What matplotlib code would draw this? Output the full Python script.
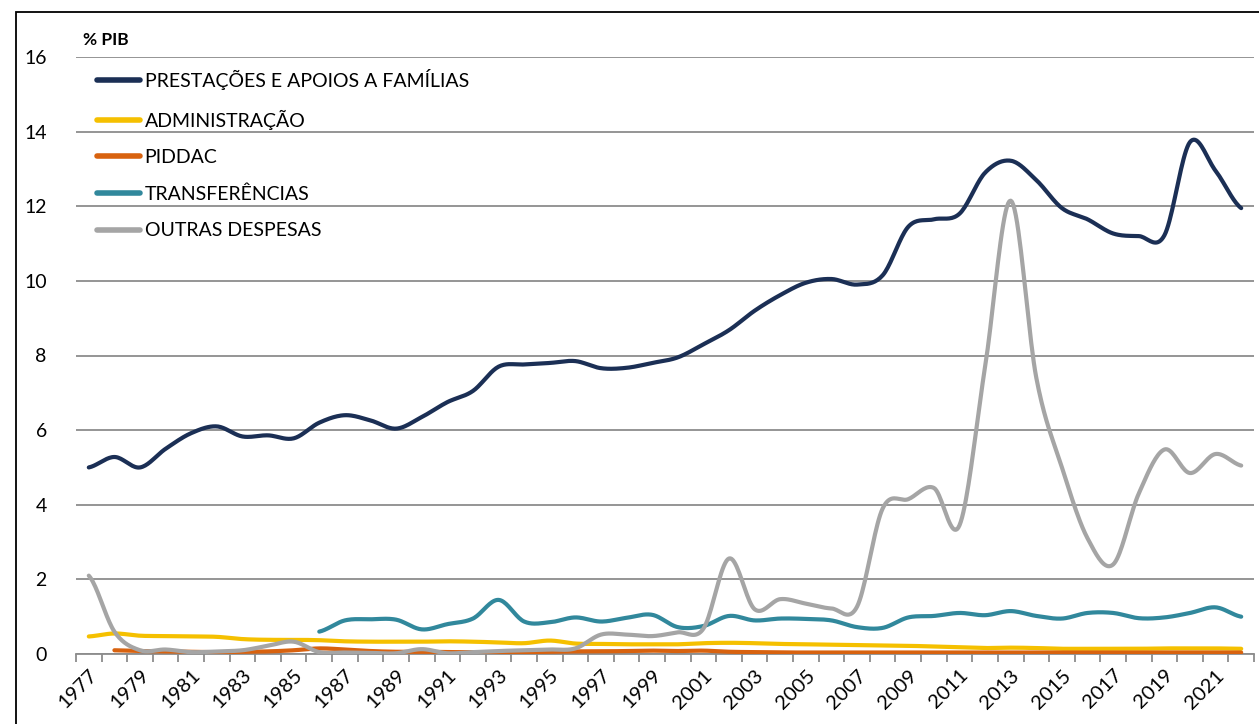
import numpy as np
import matplotlib
matplotlib.use("Agg")
import matplotlib.pyplot as plt
from matplotlib.patches import Rectangle

years = list(range(1977, 2023))

prestacoes = [5.0, 5.28, 5.0, 5.5, 5.92, 6.1, 5.83, 5.86, 5.78, 6.2,
              6.4, 6.26, 6.04, 6.35, 6.75, 7.05, 7.7, 7.76, 7.8, 7.85,
              7.66, 7.67, 7.8, 7.95, 8.3, 8.68, 9.2, 9.62, 9.95, 10.05,
              9.9, 10.15, 11.45, 11.65, 11.8, 12.9, 13.22, 12.7, 11.95, 11.65,
              11.27, 11.2, 11.22, 13.72, 12.95, 11.95]

administracao = [0.47, 0.55, 0.49, 0.48, 0.47, 0.46, 0.40, 0.38, 0.38, 0.37,
                 0.34, 0.33, 0.33, 0.33, 0.34, 0.33, 0.31, 0.29, 0.36, 0.28,
                 0.27, 0.26, 0.26, 0.26, 0.29, 0.30, 0.29, 0.27, 0.26, 0.25,
                 0.24, 0.23, 0.22, 0.20, 0.18, 0.16, 0.17, 0.16, 0.14, 0.14,
                 0.14, 0.14, 0.15, 0.15, 0.15, 0.14]

piddac = [None, 0.10, 0.08, 0.07, 0.06, 0.05, 0.06, 0.07, 0.10, 0.15,
          0.12, 0.08, 0.06, 0.06, 0.05, 0.05, 0.05, 0.05, 0.06, 0.07,
          0.07, 0.08, 0.09, 0.08, 0.09, 0.06, 0.05, 0.04, 0.04, 0.04,
          0.04, 0.04, 0.04, 0.04, 0.04, 0.04, 0.04, 0.04, 0.04, 0.04,
          0.04, 0.04, 0.04, 0.04, 0.04, 0.04]

transferencias = [None] * 9 + [
    0.60, 0.90, 0.93, 0.92, 0.66, 0.80, 0.95, 1.45, 0.87, 0.85,
    0.98, 0.87, 0.97, 1.05, 0.72, 0.75, 1.02, 0.90, 0.95, 0.94,
    0.90, 0.72, 0.70, 0.98, 1.02, 1.10, 1.04, 1.15, 1.02, 0.95,
    1.10, 1.10, 0.96, 0.98, 1.10, 1.25, 1.00]

outras = [2.10, 0.60, 0.10, 0.12, 0.05, 0.07, 0.10, 0.22, 0.33, 0.05,
          0.04, 0.03, 0.02, 0.13, 0.02, 0.05, 0.08, 0.10, 0.12, 0.15,
          0.52, 0.52, 0.48, 0.58, 0.68, 2.56, 1.20, 1.47, 1.35, 1.22,
          1.27, 3.90, 4.15, 4.45, 3.45, 7.70, 12.15, 7.40, 5.00, 3.10,
          2.40, 4.30, 5.48, 4.85, 5.36, 5.05]

series = [
    ("PRESTAÇÕES E APOIOS A FAMÍLIAS", prestacoes, "#1b2f55"),
    ("ADMINISTRAÇÃO", administracao, "#f5c000"),
    ("PIDDAC", piddac, "#d8620f"),
    ("TRANSFERÊNCIAS", transferencias, "#31889c"),
    ("OUTRAS DESPESAS", outras, "#a5a5a5"),
]

y_ticks = [0, 2, 4, 6, 8, 10, 12, 14, 16]


def smooth(x, y, n=20):
    x = np.asarray(x, float)
    y = np.asarray(y, float)
    if len(x) < 3:
        return x, y
    px = np.concatenate([[2 * x[0] - x[1]], x, [2 * x[-1] - x[-2]]])
    py = np.concatenate([[y[0]], y, [y[-1]]])
    xs, ys = [], []
    for i in range(1, len(px) - 2):
        p0, p1, p2, p3 = py[i - 1], py[i], py[i + 1], py[i + 2]
        q0, q1, q2, q3 = px[i - 1], px[i], px[i + 1], px[i + 2]
        c1y = p1 + (p2 - p0) / 6
        c2y = p2 - (p3 - p1) / 6
        c1x = q1 + (q2 - q0) / 6
        c2x = q2 - (q3 - q1) / 6
        t = np.linspace(0, 1, n, endpoint=False)
        b0 = (1 - t) ** 3
        b1 = 3 * (1 - t) ** 2 * t
        b2 = 3 * (1 - t) * t ** 2
        b3 = t ** 3
        xs.append(b0 * q1 + b1 * c1x + b2 * c2x + b3 * q2)
        ys.append(b0 * p1 + b1 * c1y + b2 * c2y + b3 * p2)
    xs.append([x[-1]])
    ys.append([y[-1]])
    return np.concatenate(xs), np.concatenate(ys)


plt.rcParams['font.family'] = ['Lato', 'DejaVu Sans']

fig = plt.figure(figsize=(12.59, 7.24), dpi=100)
ax = fig.add_axes([76 / 1259, 1 - 654 / 724, (1254 - 76) / 1259, (654 - 57) / 724])

idx = np.arange(len(years))
for name, vals, col in series:
    xv = [i for i, v in zip(idx, vals) if v is not None]
    yv = [v for v in vals if v is not None]
    sx, sy = smooth(xv, yv)
    ax.plot(sx, sy, color=col, lw=3.0, solid_capstyle='round', label=name, zorder=3)

ax.set_xlim(-0.5, len(years) - 0.5)
ax.set_ylim(0, 16)
ax.set_yticks(y_ticks)
ax.set_yticklabels([str(v) for v in y_ticks])
ax.yaxis.grid(True, color="#8c8c8c", lw=1.3)
ax.set_axisbelow(True)

major = idx[::2]
ax.set_xticks(major)
ax.set_xticklabels([str(years[i]) for i in major], rotation=45, ha='right',
                   rotation_mode='anchor', fontsize=14.5)
ax.set_xticks(np.arange(-0.5, len(years)), minor=True)
ax.tick_params(axis='x', which='major', length=0, pad=9)
ax.tick_params(axis='x', which='minor', length=6, width=1.3, color="#8c8c8c")
ax.tick_params(axis='y', length=0, pad=21, labelsize=14)

for s in ['left', 'right', 'top']:
    ax.spines[s].set_visible(False)
ax.spines['bottom'].set_color("#8c8c8c")
ax.spines['bottom'].set_linewidth(1.3)

leg = ax.legend(loc='upper left', bbox_to_anchor=(97 / 1259, 1 - 69 / 724),
                bbox_transform=fig.transFigure, frameon=False, fontsize=14,
                handlelength=2.2, handletextpad=0.25, labelspacing=1.0,
                borderpad=0, borderaxespad=0)
for line in leg.get_lines():
    line.set_linewidth(4)

fig.text(83 / 1259, 1 - 40 / 724, "% PIB", fontsize=12.5, fontweight='bold',
         ha='left', va='center')

fig.patches.append(Rectangle((16 / 1259, -0.1), 2, 1 - 12 / 724 + 0.1,
                             transform=fig.transFigure, fill=False,
                             ec='black', lw=1.3))

fig.savefig("out.png", dpi=100)
